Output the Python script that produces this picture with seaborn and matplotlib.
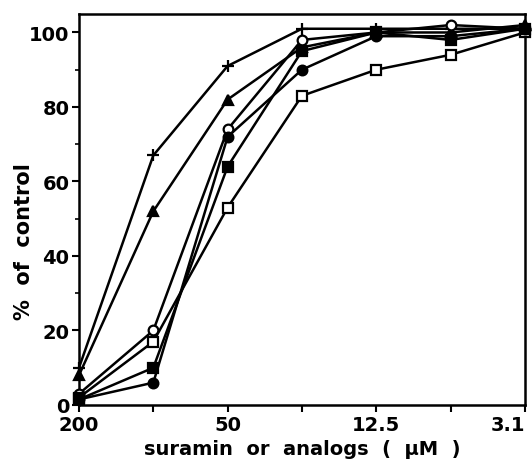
import numpy as np
import pandas as pd
import matplotlib
matplotlib.use("Agg")
import matplotlib.pyplot as plt
import seaborn as sns

# concentrations (uM), plotted at equal spacing (two-fold dilutions)
concentrations = ["200", "100", "50", "25", "12.5", "6.25", "3.1"]
tick_labels = ["200", "", "50", "", "12.5", "", "3.1"]

# % of control for suramin and analogs
plus_vals = [10, 67, 91, 101, 101, 101, 101]
triangle_vals = [8, 52, 82, 96, 100, 100, 102]
open_circle_vals = [3, 20, 74, 98, 100, 102, 101]
open_square_vals = [2, 17, 53, 83, 90, 94, 100]
filled_square_vals = [1.5, 10, 64, 95, 100, 98, 101]
filled_circle_vals = [1.5, 6, 72, 90, 99, 99, 101]

series = [
    ("plus", plus_vals, "+", "black"),
    ("triangle", triangle_vals, "^", "black"),
    ("open circle", open_circle_vals, "o", "white"),
    ("open square", open_square_vals, "s", "white"),
    ("filled square", filled_square_vals, "s", "black"),
    ("filled circle", filled_circle_vals, "o", "black"),
]

sns.set_style("ticks")
plt.rcParams['font.family'] = ['DejaVu Sans']
plt.rcParams['font.weight'] = 'bold'
plt.rcParams['text.color'] = 'black'
plt.rcParams['axes.labelcolor'] = 'black'
plt.rcParams['xtick.color'] = 'black'
plt.rcParams['ytick.color'] = 'black'
plt.rcParams['axes.edgecolor'] = 'black'

fig = plt.figure(figsize=(5.32, 4.64), dpi=100)
ax = fig.add_axes([0.1485, 0.125, 0.838, 0.843])

pos = np.arange(len(concentrations))
for name, vals, mk, face in series:
    df = pd.DataFrame({"pos": pos, "pct": vals})
    sns.lineplot(data=df, x="pos", y="pct", ax=ax, color="black", lw=1.8,
                 marker=mk, markersize=9 if mk == "+" else 7,
                 markerfacecolor=face, markeredgecolor="black",
                 markeredgewidth=1.6, clip_on=False, zorder=3)

ax.set_xlim(0, 6)
ax.set_ylim(0, 105)
ax.set_xticks(pos)
ax.set_xticklabels(tick_labels, fontsize=14, fontweight='bold')
ax.get_xticklabels()[-1].set_horizontalalignment('right')
ax.set_yticks([0, 20, 40, 60, 80, 100])
ax.set_yticks([10, 30, 50, 70, 90], minor=True)
ax.tick_params(axis='y', labelsize=14, width=1.5, length=5, pad=2)
ax.tick_params(axis='y', which='minor', width=1.2, length=3)
ax.tick_params(axis='x', width=1.5, length=5, pad=2)
for lbl in ax.get_yticklabels():
    lbl.set_fontweight('bold')
for sp in ax.spines.values():
    sp.set_linewidth(1.8)

ax.set_xlabel("suramin  or  analogs  (  \u03bcM  )", fontsize=14, fontweight='bold', labelpad=4)
ax.set_ylabel("%  of  control", fontsize=15, fontweight='bold')
ax.yaxis.set_label_coords(-0.10, 0.42)

fig.savefig("out.png", dpi=100)
